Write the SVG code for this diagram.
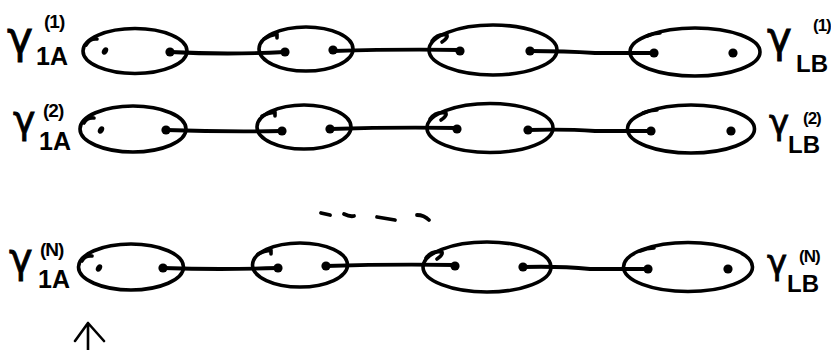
<svg xmlns="http://www.w3.org/2000/svg" width="831" height="350" viewBox="0 0 831 350">
<style>
.s{fill:none;stroke:#000;stroke-width:3.6;stroke-linecap:round;stroke-linejoin:round}
.c{fill:none;stroke:#000;stroke-width:3.8;stroke-linecap:round}
.d{fill:#000}
.g{font-family:"DejaVu Sans",sans-serif;fill:#000;stroke:#000;stroke-width:0.8}
.sub{font-family:"Liberation Sans",sans-serif;font-weight:bold;fill:#000}
</style>
<rect width="831" height="350" fill="#fff"/>

<!-- labels -->
<g id="label-1A-1">
<text class="g" x="7" y="53" font-size="44">γ</text>
<text class="sub" x="36" y="65" font-size="25">1A</text>
<text class="sub" x="44" y="28" font-size="19" letter-spacing="-1">(1)</text>
</g>
<g id="label-1A-2">
<text class="g" x="13" y="133" font-size="38">γ</text>
<text class="sub" x="39" y="150" font-size="25">1A</text>
<text class="sub" x="43" y="117" font-size="19" letter-spacing="-1">(2)</text>
</g>
<g id="label-1A-N">
<text class="g" x="9" y="272" font-size="40">γ</text>
<text class="sub" x="38" y="288" font-size="25">1A</text>
<text class="sub" x="40" y="256" font-size="19" letter-spacing="-1">(N)</text>
</g>
<g id="label-LB-1">
<text class="g" x="767" y="52" font-size="42">γ</text>
<text class="sub" x="796" y="72" font-size="24">LB</text>
<text class="sub" x="813" y="31" font-size="17" letter-spacing="-1">(1)</text>
</g>
<g id="label-LB-2">
<text class="g" x="769" y="134" font-size="34">γ</text>
<text class="sub" x="788" y="153" font-size="24">LB</text>
<text class="sub" x="803" y="124" font-size="17" letter-spacing="-1">(2)</text>
</g>
<g id="label-LB-N">
<text class="g" x="767" y="274" font-size="34">γ</text>
<text class="sub" x="787" y="292" font-size="24">LB</text>
<text class="sub" x="799" y="262" font-size="17" letter-spacing="-1">(N)</text>
</g>

<!-- connectors -->
<g id="connectors">
<path class="c" d="M170 52 Q228 55 285 52"/>
<path class="c" d="M333 51 Q400 49 460 50"/>
<path class="c" d="M530 51 Q565 51 595 53 L654 53"/>
<path class="c" d="M166 130 Q225 132 282 131"/>
<path class="c" d="M330 129 Q395 127 457 128"/>
<path class="c" d="M528 130 Q565 129 595 131 L651 131"/>
<path class="c" d="M163 268 Q220 270 278 268"/>
<path class="c" d="M326 266 Q390 264 455 265"/>
<path class="c" d="M523 267 Q560 266 590 269 L648 269"/>
</g>

<!-- row 1 -->
<g id="r1n1">
<ellipse class="s" cx="135" cy="51" rx="52" ry="22.5"/>
<path class="s" d="M86 45 Q90 38 97 39"/>
<ellipse class="d" cx="105" cy="51" rx="2.8" ry="4" transform="rotate(30 105 51)"/>
<circle class="d" cx="170" cy="52" r="4.6"/>
</g>
<g id="r1n2">
<ellipse class="s" cx="306" cy="49" rx="47" ry="22"/>
<path class="s" d="M264 39 Q270 35 277 34 L277 38"/>
<circle class="d" cx="285" cy="52" r="4.6"/>
<circle class="d" cx="333" cy="50" r="4.6"/>
</g>
<g id="r1n3">
<ellipse class="s" cx="493" cy="50" rx="64" ry="25"/>
<path class="s" d="M432 41 Q438 33 447 35 Q448 38 442 42"/>
<circle class="d" cx="460" cy="51" r="4.6"/>
<circle class="d" cx="530" cy="51" r="4.6"/>
</g>
<g id="r1n4">
<ellipse class="s" cx="695" cy="52" rx="65" ry="24"/>
<path class="s" d="M647 36 Q654 33 660 33"/>
<circle class="d" cx="654" cy="53" r="4.6"/>
<circle class="d" cx="733" cy="53" r="4.6"/>
</g>

<!-- row 2 -->
<g id="r2n1">
<ellipse class="s" cx="133" cy="129" rx="53" ry="23"/>
<path class="s" d="M84 123 Q87 117 94 118"/>
<ellipse class="d" cx="101" cy="130" rx="2.8" ry="4" transform="rotate(30 101 130)"/>
<circle class="d" cx="166" cy="130" r="4.6"/>
</g>
<g id="r2n2">
<ellipse class="s" cx="304" cy="127" rx="47" ry="22"/>
<path class="s" d="M262 116 Q268 113 275 112 L275 116"/>
<circle class="d" cx="282" cy="131" r="4.6"/>
<circle class="d" cx="330" cy="129" r="4.6"/>
</g>
<g id="r2n3">
<ellipse class="s" cx="490" cy="128" rx="63" ry="24.5"/>
<path class="s" d="M430 119 Q436 111 446 113 Q447 116 441 120"/>
<circle class="d" cx="457" cy="129" r="4.6"/>
<circle class="d" cx="528" cy="130" r="4.6"/>
</g>
<g id="r2n4">
<ellipse class="s" cx="691" cy="129" rx="63.5" ry="24"/>
<path class="s" d="M643 113 Q650 110 657 110"/>
<circle class="d" cx="651" cy="131" r="4.6"/>
<circle class="d" cx="731" cy="131" r="4.6"/>
</g>

<!-- dots between rows -->
<g id="ellipsis">
<path class="c" d="M321 213 L330 215"/>
<path class="c" d="M344 214 Q350 217 354 216"/>
<path class="c" d="M377 217 L395 220"/>
<path class="c" d="M417 215 Q424 215 429 220"/>
</g>

<!-- row 3 -->
<g id="r3n1">
<ellipse class="s" cx="131" cy="267" rx="52.5" ry="23"/>
<path class="s" d="M82 261 Q85 255 92 256"/>
<ellipse class="d" cx="99" cy="268" rx="2.8" ry="4" transform="rotate(30 99 268)"/>
<circle class="d" cx="163" cy="268" r="4.6"/>
</g>
<g id="r3n2">
<ellipse class="s" cx="300" cy="265" rx="47.5" ry="22"/>
<path class="s" d="M258 254 Q264 251 271 250 L271 254"/>
<circle class="d" cx="278" cy="268" r="4.6"/>
<circle class="d" cx="326" cy="266" r="4.6"/>
</g>
<g id="r3n3">
<ellipse class="s" cx="487" cy="267" rx="64" ry="25"/>
<path class="s" d="M426 258 Q432 250 442 252 Q443 255 437 259"/>
<circle class="d" cx="455" cy="266" r="4.6"/>
<circle class="d" cx="523" cy="267" r="4.6"/>
</g>
<g id="r3n4">
<ellipse class="s" cx="688" cy="267" rx="64.5" ry="24.5"/>
<path class="s" d="M640 251 Q647 248 654 248"/>
<circle class="d" cx="648" cy="269" r="4.6"/>
<circle class="d" cx="728" cy="269" r="4.6"/>
</g>

<!-- arrow -->
<g id="arrow">
<path class="s" style="stroke-width:2.6" d="M88 350 L88 323 M75 341 L88 323 L104 341"/>
</g>
</svg>
